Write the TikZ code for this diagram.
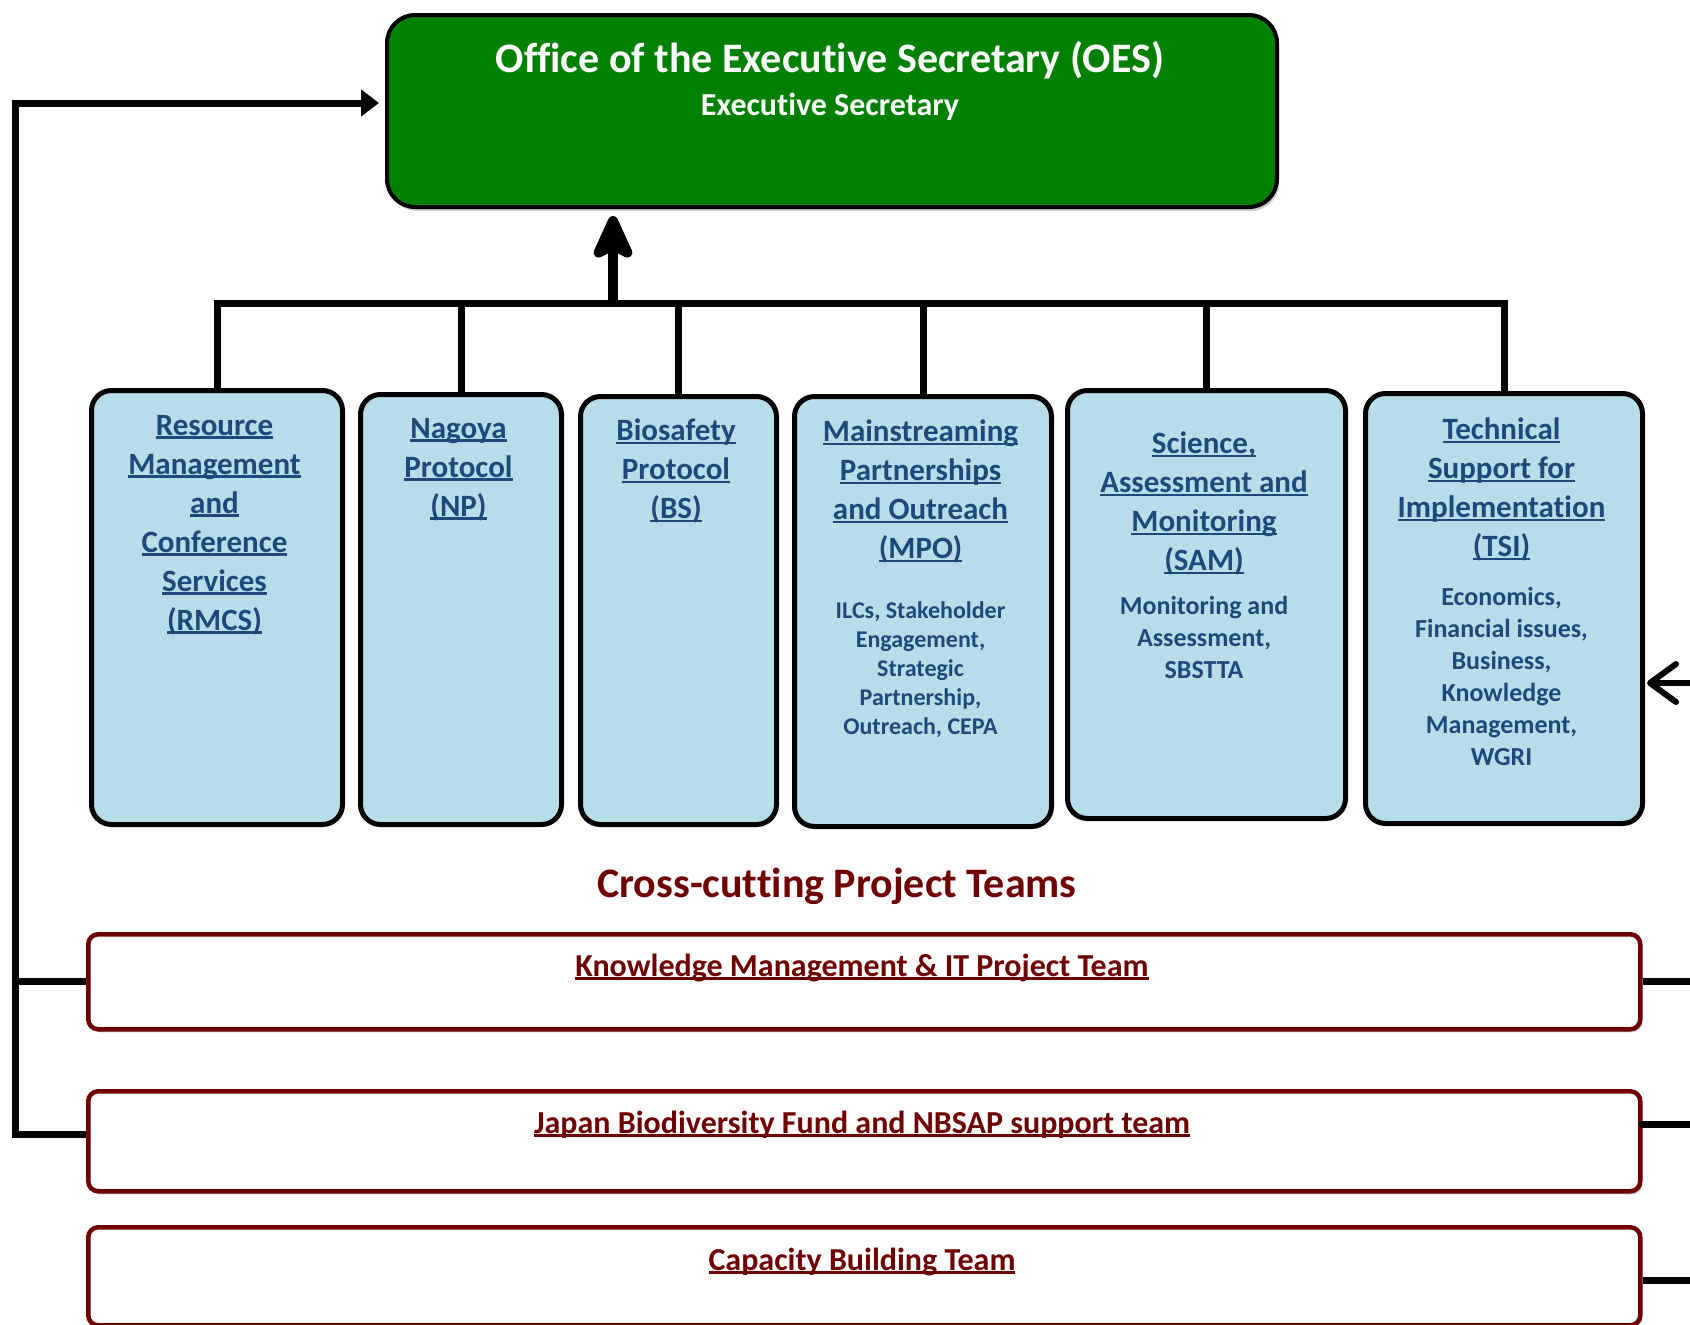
\documentclass[tikz,border=0pt]{standalone}
\usepackage{fontspec}
\setmainfont{Carlito}[Ligatures=NoCommon]
\usepackage{xcolor}
\usetikzlibrary{arrows.meta,shadows}
\definecolor{oesgreen}{RGB}{0,128,0}
\definecolor{unitblue}{RGB}{183,221,232}
\definecolor{unittext}{RGB}{31,73,125}
\definecolor{teamred}{RGB}{110,0,0}
\newcommand{\ulword}[1]{\setbox0\hbox{#1}\rlap{\rule[-0.11em]{\wd0}{0.075em}}\box0}
\tikzset{
	oesbox/.style={draw=black, line width=4pt, fill=oesgreen, rounded corners=28pt, anchor=north west, inner sep=0pt,
			drop shadow={shadow xshift=2pt, shadow yshift=-4pt, fill=black!20, opacity=1}},
	unit/.style={draw=black, line width=5pt, fill=unitblue, rounded corners=20pt, anchor=north west, inner sep=0pt},
	unittitle/.style={font=\fontsize{31}{39}\selectfont\bfseries, text=unittext, align=center, anchor=north, inner sep=0pt},
	unitsub/.style={font=\fontsize{26}{32}\selectfont\bfseries, text=unittext, align=center, anchor=north, inner sep=0pt},
	team/.style={draw=teamred, line width=4.5pt, fill=white, rounded corners=10pt, anchor=north west, inner sep=0pt,
			minimum width=1552, drop shadow={shadow xshift=2pt, shadow yshift=-3pt, fill=black!20, opacity=1}},
	teamtitle/.style={font=\fontsize{32}{38}\selectfont\bfseries, text=teamred, anchor=base, inner sep=0pt},
	conn/.style={line width=7pt}
}

\begin{document}
\begin{tikzpicture}[x=1pt,y=-1pt]
	\useasboundingbox (0,0) rectangle (1690,1325);

	% Office of the Executive Secretary
	\node[oesbox, minimum width=890, minimum height=192] (oes) at (385,13) {};
	\node[font=\fontsize{42}{48}\selectfont\bfseries, text=white, anchor=base, inner sep=0pt] (oes-t) at (830,72) {Office of the Executive Secretary (OES)};
	\node[font=\fontsize{32}{38}\selectfont\bfseries, text=white, anchor=base, inner sep=0pt] (oes-s) at (830,115) {Executive Secretary};

	% Units
	\node[unit, minimum width=251, minimum height=434] (rmcs) at (89,388) {};
	\node[unit, minimum width=201, minimum height=430] (np) at (358,392) {};
	\node[unit, minimum width=196, minimum height=428] (bs) at (578,394) {};
	\node[unit, minimum width=257, minimum height=430] (mpo) at (792,394) {};
	\node[unit, minimum width=278, minimum height=428] (sam) at (1065,388) {};
	\node[unit, minimum width=277, minimum height=430] (tsi) at (1363,391) {};

	\node[unittitle] (rmcs-t) at (214.5,415) {\ulword{Resource}\\\ulword{Management}\\\ulword{and}\\\ulword{Conference}\\\ulword{Services}\\\ulword{(RMCS)}};
	\node[unittitle] (np-t) at (458.5,418) {\ulword{Nagoya}\\\ulword{Protocol}\\\ulword{(NP)}};
	\node[unittitle] (bs-t) at (676,419) {\ulword{Biosafety}\\\ulword{Protocol}\\\ulword{(BS)}};
	\node[unittitle] (mpo-t) at (920.5,420) {\ulword{Mainstreaming}\\\ulword{Partnerships}\\\ulword{and Outreach}\\\ulword{(MPO)}};
	\node[unittitle] (sam-t) at (1204,432) {\ulword{Science,}\\\ulword{Assessment and}\\\ulword{Monitoring}\\\ulword{(SAM)}};
	\node[unittitle] (tsi-t) at (1501.5,418) {\ulword{Technical}\\\ulword{Support for}\\\ulword{Implementation}\\\ulword{(TSI)}};

	\node[unitsub, font=\fontsize{24}{29}\selectfont\bfseries] (mpo-s) at (920.5,601) {ILCs, Stakeholder\\Engagement,\\Strategic\\Partnership,\\Outreach, CEPA};
	\node[unitsub] (sam-s) at (1204,596) {Monitoring and\\Assessment,\\SBSTTA};
	\node[unitsub] (tsi-s) at (1501.5,587) {Economics,\\Financial issues,\\Business,\\Knowledge\\Management,\\WGRI};

	% Units to OES
	\coordinate (bus) at (613,303);
	\foreach \u in {rmcs,np,bs,mpo,sam,tsi}
		\draw[conn] (\u.north) |- (bus);
	\draw[line width=10pt, -{Stealth[length=54pt,width=48pt,inset=12pt,round]}, shorten >=7pt] (bus) -- (bus |- oes.south);

	% Cross-cutting project teams
	\node[font=\fontsize{42}{48}\selectfont\bfseries, text=teamred, anchor=base, inner sep=0pt] (cross) at (837,897) {Cross-cutting Project Teams};

	\node[team, minimum height=95] (kmit) at (86,932) {};
	\node[team, minimum height=100] (jbf) at (86,1089) {};
	\node[team, minimum height=98] (cbt) at (86,1225) {};

	\node[teamtitle] (kmit-t) at (862,976) {\ulword{Knowledge Management \& IT Project Team}};
	\node[teamtitle] (jbf-t) at (862,1133) {\ulword{Japan Biodiversity Fund and NBSAP support team}};
	\node[teamtitle] (cbt-t) at (862,1270) {\ulword{Capacity Building Team}};

	% Teams to OES and to the right
	\coordinate (rail) at (15,0);
	\coordinate (edge) at (1690,0);
	\draw[conn, -{Triangle[length=18pt,width=26pt]}] ([yshift=7pt]jbf.west) -| (rail |- 0,103) -- (379,103);
	\draw[conn] (kmit.west) -- (rail |- kmit.west);
	\draw[conn] (kmit.east) -- (edge |- kmit.east);
	\draw[conn, line cap=round] (jbf.east |- 0,1124) -- (edge |- 0,1124);
	\draw[conn] (cbt.east |- 0,1280) -- (edge |- 0,1280);
	\draw[line width=6pt, -{Straight Barb[length=26pt,width=38pt,round]}, shorten >=2pt] (edge |- 0,683) -- (tsi.east |- 0,683);
\end{tikzpicture}
\end{document}
